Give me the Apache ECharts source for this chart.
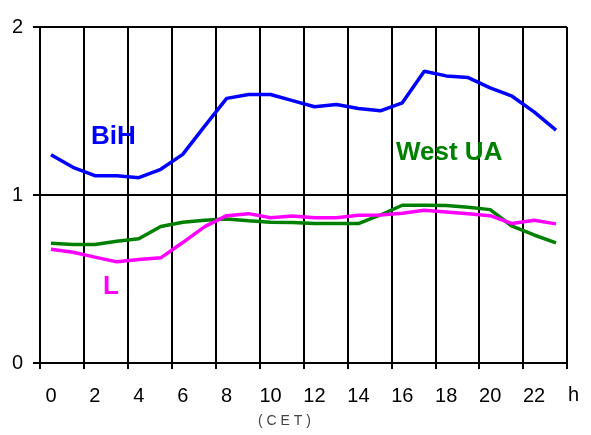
<!DOCTYPE html>
<html>
<head>
<meta charset="utf-8">
<script src="https://cdn.jsdelivr.net/npm/echarts@6/dist/echarts.min.js"></script>
<style>
  html, body { margin: 0; padding: 0; background: #fff; }
  #chart { width: 591px; height: 435px; }
</style>
</head>
<body>
<div id="chart"></div>
<script>
const hours = ['0', '1', '2', '3', '4', '5', '6', '7', '8', '9', '10', '11',
  '12', '13', '14', '15', '16', '17', '18', '19', '20', '21', '22', '23'];
const yTicks = [0, 1, 2];

const bih = [1.24, 1.165, 1.115, 1.115, 1.103, 1.153, 1.242, 1.41, 1.575, 1.598, 1.598, 1.562,
  1.525, 1.539, 1.515, 1.501, 1.549, 1.737, 1.709, 1.699, 1.638, 1.588, 1.495, 1.386];
const westUA = [0.713, 0.705, 0.705, 0.725, 0.74, 0.812, 0.838, 0.85, 0.857, 0.847, 0.838, 0.836,
  0.83, 0.83, 0.83, 0.881, 0.939, 0.939, 0.937, 0.927, 0.913, 0.814, 0.762, 0.715];
const lArea = [0.677, 0.659, 0.63, 0.602, 0.616, 0.626, 0.717, 0.812, 0.877, 0.889, 0.865, 0.875,
  0.865, 0.865, 0.879, 0.881, 0.891, 0.909, 0.899, 0.889, 0.877, 0.83, 0.85, 0.828];

const font = 'Liberation Sans, Arial, sans-serif';

const chart = echarts.init(document.getElementById('chart'), null, { renderer: 'canvas' });

const line = (name, data, color) => ({
  name,
  type: 'line',
  data,
  symbol: 'none',
  smooth: false,
  lineStyle: { color, width: 3.5 },
  z: 3
});

// free-floating labels, placed by hand like the original
const label = (text, x, y, color, size, weight) => ({
  type: 'text',
  x,
  y,
  z: 10,
  style: {
    text,
    fill: color,
    font: (weight || '') + ' ' + size + 'px ' + font,
    verticalAlign: 'middle',
    align: 'left'
  }
});

chart.setOption({
  animation: false,
  backgroundColor: '#fff',
  grid: { left: 40, right: 24, top: 27, bottom: 72 },
  xAxis: {
    type: 'category',
    data: hours,
    boundaryGap: true,
    axisLine: { show: true, lineStyle: { color: '#000', width: 2 } },
    axisTick: { show: true, interval: 1, length: 6, lineStyle: { color: '#000', width: 2 } },
    axisLabel: { interval: 1, color: '#000', fontSize: 20, fontFamily: font, margin: 23 },
    splitLine: { show: true, interval: 1, lineStyle: { color: '#000', width: 2 } }
  },
  yAxis: {
    type: 'value',
    min: yTicks[0],
    max: yTicks[yTicks.length - 1],
    interval: 1,
    axisLine: { show: true, lineStyle: { color: '#000', width: 2 } },
    axisTick: { show: true, length: 7, lineStyle: { color: '#000', width: 2 } },
    axisLabel: { color: '#000', fontSize: 20, fontFamily: font, margin: 17 },
    splitLine: { show: true, lineStyle: { color: '#000', width: 2 } }
  },
  series: [
    line('West UA', westUA, '#008000'),
    line('L', lArea, '#ff00ff'),
    line('BiH', bih, '#0000ff')
  ],
  graphic: [
    label('BiH', 91, 137, '#0000ff', 26, 'bold'),
    label('West UA', 396, 153, '#008000', 26, 'bold'),
    label('L', 103, 287, '#ff00ff', 26, 'bold'),
    label('h', 568, 395, '#000', 20),
    label('( C E T )', 258, 421, '#444', 14)
  ]
});
</script>
</body>
</html>
